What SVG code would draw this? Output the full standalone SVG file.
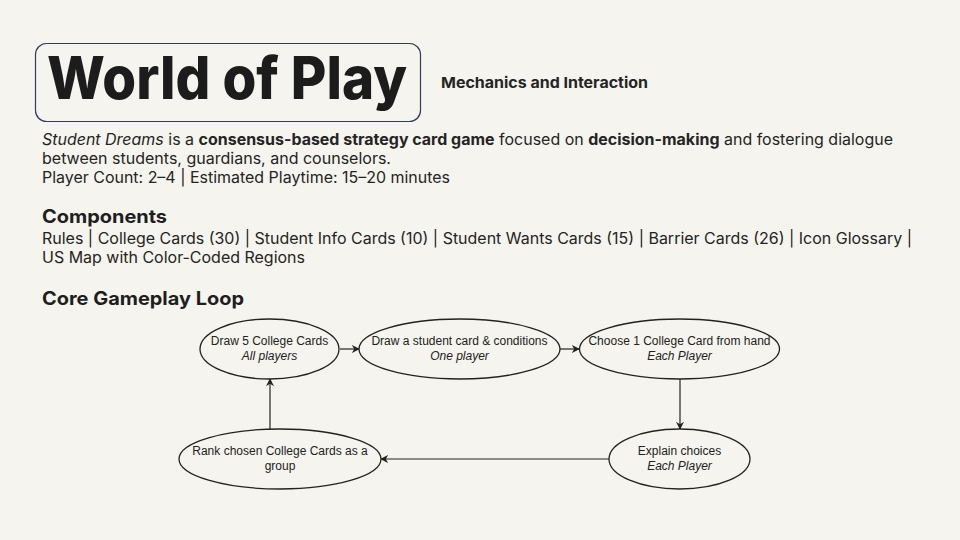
<svg xmlns="http://www.w3.org/2000/svg" width="960" height="540" viewBox="0 0 960 540">
<defs>
<style>
.body{font-family:Inter,"Noto Sans",sans-serif;font-size:15.5px;fill:#242424}
.b{font-weight:700}
.i{font-style:italic}
.h{font-family:Inter,"Noto Sans",sans-serif;font-weight:700;font-size:18.5px;fill:#1e1e1e}
.node ellipse{fill:#f5f4ee;stroke:#222;stroke-width:1.3}
.node text{font-family:"Liberation Sans",Arial,sans-serif;font-size:12px;fill:#222;text-anchor:middle}
.conn line{stroke:#222;stroke-width:1.2;marker-end:url(#ah)}
</style>
<marker id="ah" viewBox="0 0 10 10" refX="9" refY="5" markerWidth="8" markerHeight="8" markerUnits="userSpaceOnUse" orient="auto">
<path d="M0,0 L10,5 L0,10 L3,5 z" fill="#222"/>
</marker>
</defs>
<rect width="960" height="540" fill="#f5f4ee"/>
<g id="title">
<rect x="35.5" y="43.5" width="385" height="78" rx="11" fill="none" stroke="#2f3a6b" stroke-width="1.2"/>
<text x="47" y="99" font-family="Inter,'Noto Sans',sans-serif" font-weight="800" font-size="59" fill="#1c1c1c" textLength="360" lengthAdjust="spacingAndGlyphs">World of Play</text>
<text x="441" y="88" font-family="Inter,'Noto Sans',sans-serif" font-weight="700" font-size="15" fill="#242424" textLength="207" lengthAdjust="spacingAndGlyphs">Mechanics and Interaction</text>
</g>
<g id="description">
<text class="body" x="42" y="145" textLength="851" lengthAdjust="spacingAndGlyphs"><tspan class="i">Student Dreams</tspan> is a <tspan class="b">consensus-based strategy card game</tspan> focused on <tspan class="b">decision-making</tspan> and fostering dialogue</text>
<text class="body" x="42" y="164" textLength="349" lengthAdjust="spacingAndGlyphs">between students, guardians, and counselors.</text>
<text class="body" x="42" y="183" textLength="408" lengthAdjust="spacingAndGlyphs">Player Count: 2–4 | Estimated Playtime: 15–20 minutes</text>
</g>
<g id="components">
<text class="h" x="42" y="223" textLength="125" lengthAdjust="spacingAndGlyphs">Components</text>
<text class="body" x="42" y="244" textLength="870" lengthAdjust="spacingAndGlyphs">Rules | College Cards (30) | Student Info Cards (10) | Student Wants Cards (15) | Barrier Cards (26) | Icon Glossary |</text>
<text class="body" x="42" y="263" textLength="263" lengthAdjust="spacingAndGlyphs">US Map with Color-Coded Regions</text>
</g>
<g id="loop-heading">
<text class="h" x="42" y="305" textLength="202" lengthAdjust="spacingAndGlyphs">Core Gameplay Loop</text>
</g>
<g id="connectors" class="conn">
<line x1="340" y1="349" x2="359" y2="349"/>
<line x1="560" y1="349" x2="579" y2="349"/>
<line x1="680" y1="379" x2="680" y2="429"/>
<line x1="609" y1="459" x2="381" y2="459"/>
<line x1="270" y1="429" x2="270" y2="379"/>
</g>
<g id="n1" class="node">
<ellipse cx="269.5" cy="349" rx="69.5" ry="30"/>
<text x="269.5" y="345">Draw 5 College Cards</text>
<text x="269.5" y="360" font-style="italic">All players</text>
</g>
<g id="n2" class="node">
<ellipse cx="459.5" cy="349" rx="100.5" ry="30"/>
<text x="459.5" y="345">Draw a student card &amp; conditions</text>
<text x="459.5" y="360" font-style="italic">One player</text>
</g>
<g id="n3" class="node">
<ellipse cx="679.5" cy="349" rx="100" ry="30"/>
<text x="679.5" y="345">Choose 1 College Card from hand</text>
<text x="679.5" y="360" font-style="italic">Each Player</text>
</g>
<g id="n4" class="node">
<ellipse cx="679.5" cy="459" rx="70.5" ry="30"/>
<text x="679.5" y="455">Explain choices</text>
<text x="679.5" y="470" font-style="italic">Each Player</text>
</g>
<g id="n5" class="node">
<ellipse cx="280" cy="459" rx="101" ry="30"/>
<text x="280" y="455">Rank chosen College Cards as a</text>
<text x="280" y="470">group</text>
</g>
</svg>
